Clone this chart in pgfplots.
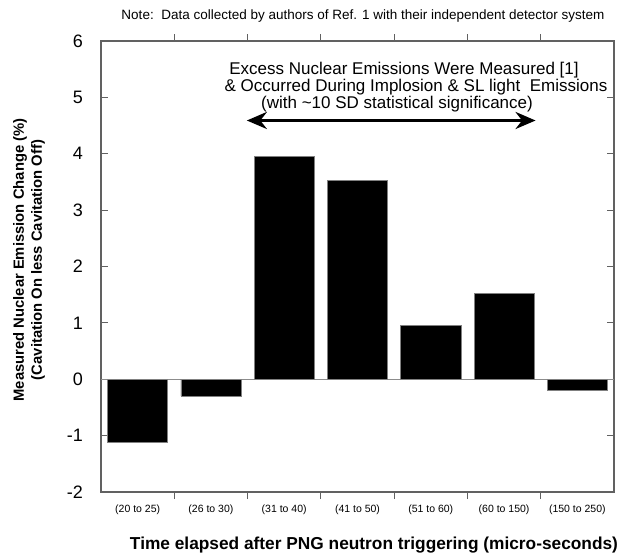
\documentclass[border=0pt]{standalone}
\usepackage{pgfplots}
\pgfplotsset{compat=1.18}
\usepackage{fontspec}
\setmainfont{Liberation Sans}
\usetikzlibrary{arrows.meta}
\begin{document}
\begin{tikzpicture}[x=1pt,y=1pt]
\useasboundingbox (0,0) rectangle (621,557);
\begin{axis}[
  at={(101pt,65pt)}, anchor=south west,
  scale only axis, width=513pt, height=451pt,
  xmin=-0.5, xmax=6.5, ymin=-2, ymax=6,
  ytick={-2,-1,0,1,2,3,4,5,6},
  xtick={0.5,1.5,2.5,3.5,4.5,5.5}, xticklabels={},
  extra x ticks={0,1,2,3,4,5,6},
  extra x tick labels={(20 to 25),(26 to 30),(31 to 40),(41 to 50),(51 to 60),(60 to 150),(150 to 250)},
  extra x tick style={major tick length=0pt, tick style={draw=none}},
  xticklabel style={font=\fontsize{10.5}{12}\selectfont, anchor=north, inner sep=0pt, yshift=-13pt},
  yticklabel style={font=\fontsize{18}{20}\selectfont, anchor=east, inner sep=0pt, xshift=-18pt},
  /pgf/number format/assume math mode=true,
  tick align=inside, xtick pos=both, ytick pos=both,
  major tick length=7pt,
  axis line style={draw=black!62, line width=1.3pt},
  tick style={draw=black!62, line width=1.1pt},
  ybar, bar width=0.82,
]
\draw[black!45, line width=0.8pt] (axis cs:-0.5,0) -- (axis cs:6.5,0);
\addplot[fill=black, draw=black!50, line width=0.6pt] coordinates {
  (0,-1.12) (1,-0.30) (2,3.96) (3,3.53) (4,0.96) (5,1.52) (6,-0.20)
};
\draw[line width=3pt, {Stealth[length=20pt,width=17pt]}-{Stealth[length=20pt,width=17pt]}]
  (axis cs:1.49,4.59) -- (axis cs:5.43,4.59);
\end{axis}
\node[font=\fontsize{13.5}{15}\selectfont] at (363,541) {Note:\ \ Data collected by authors of Ref. 1 with their independent detector system};
\node[font=\fontsize{17}{19}\selectfont] at (404,487) {Excess Nuclear Emissions Were Measured [1]};
\node[font=\fontsize{17}{19}\selectfont] at (416,470) {\& Occurred During Implosion \& SL light\ \ Emissions};
\node[font=\fontsize{17}{19}\selectfont] at (397,453) {(with \textasciitilde 10 SD statistical significance)};
\node[font=\fontsize{14.8}{18}\bfseries\selectfont, rotate=90, align=center] at (29,297) {Measured Nuclear Emission Change (\%)\\(Cavitation On less Cavitation Off)};
\node[font=\fontsize{17.3}{20}\bfseries\selectfont] at (374,12) {Time elapsed after PNG neutron triggering (micro-seconds)};
\end{tikzpicture}
\end{document}
